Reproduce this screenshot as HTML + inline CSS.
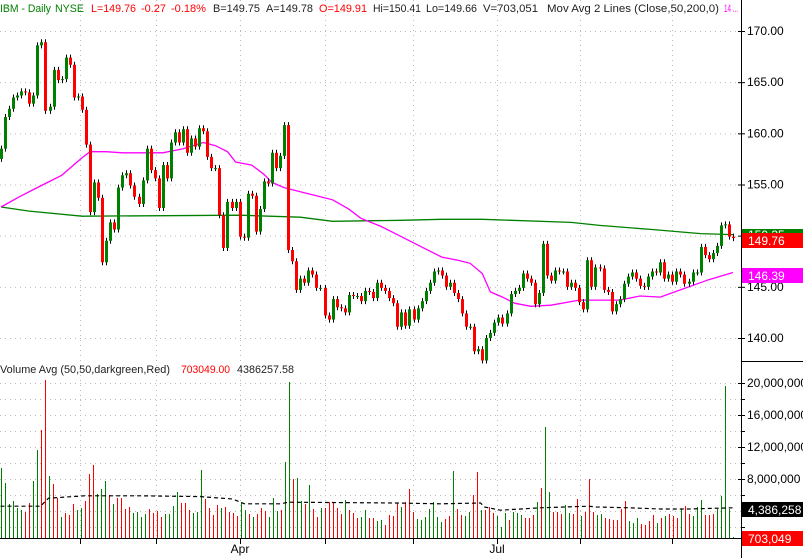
<!DOCTYPE html>
<html><head><meta charset="utf-8">
<style>
html,body{margin:0;padding:0;background:#fff;}
svg{display:block;font-family:"Liberation Sans",Arial,sans-serif;}
</style></head>
<body>
<svg id="chart" width="803" height="558" viewBox="0 0 803 558" xmlns="http://www.w3.org/2000/svg">
  <rect x="0" y="0" width="803" height="558" fill="#fff"/>
  <g id="grid"></g>
  <g id="vol"></g>
  <g id="ma"></g>
  <g id="candles"></g>
  <g id="axes"></g>
  <g font-size="11">
    <text x="0" y="12" fill="#008000" textLength="51" lengthAdjust="spacingAndGlyphs">IBM - Daily</text>
    <text x="55" y="12" fill="#008000" textLength="29" lengthAdjust="spacingAndGlyphs">NYSE</text>
    <text x="91" y="12" fill="#ff0000" textLength="45" lengthAdjust="spacingAndGlyphs">L=149.76</text>
    <text x="141" y="12" fill="#ff0000" textLength="25" lengthAdjust="spacingAndGlyphs">-0.27</text>
    <text x="171" y="12" fill="#ff0000" textLength="35" lengthAdjust="spacingAndGlyphs">-0.18%</text>
    <text x="213" y="12" fill="#222" textLength="47" lengthAdjust="spacingAndGlyphs">B=149.75</text>
    <text x="266" y="12" fill="#222" textLength="47" lengthAdjust="spacingAndGlyphs">A=149.78</text>
    <text x="319" y="12" fill="#ff0000" textLength="48" lengthAdjust="spacingAndGlyphs">O=149.91</text>
    <text x="373" y="12" fill="#222" textLength="48" lengthAdjust="spacingAndGlyphs">Hi=150.41</text>
    <text x="426" y="12" fill="#222" textLength="51" lengthAdjust="spacingAndGlyphs">Lo=149.66</text>
    <text x="483" y="12" fill="#222" textLength="55" lengthAdjust="spacingAndGlyphs">V=703,051</text>
    <text x="547" y="12" fill="#222" textLength="172" lengthAdjust="spacingAndGlyphs">Mov Avg 2 Lines (Close,50,200,0)</text>
    <text x="724" y="12" fill="#ff00ff" textLength="14" lengthAdjust="spacingAndGlyphs">14 ...</text>
  </g>
  <g font-size="11">
    <text x="0" y="373" fill="#222" textLength="170" lengthAdjust="spacingAndGlyphs">Volume Avg (50,50,darkgreen,Red)</text>
    <text x="181" y="373" fill="#ff0000" textLength="49" lengthAdjust="spacingAndGlyphs">703049.00</text>
    <text x="237" y="373" fill="#222" textLength="57" lengthAdjust="spacingAndGlyphs">4386257.58</text>
  </g>
</svg>
<script>
const closes = [158.5,161.6,162.4,163.5,163.7,164.1,164,162.9,163.7,168.6,168.9,162.2,162.6,166.2,165.2,165.3,167.4,166.7,163.5,163.6,162.3,158.9,152.3,155.2,153.7,147.4,149.5,151.3,150.6,154.7,155.9,156.1,154.9,153.8,153.1,155.4,158.5,156.4,155.6,152.7,156.9,155.6,159.1,160.1,159.1,160.4,158.1,159.5,158.7,160.5,160.2,157.7,156.6,156.6,152,148.8,153.3,152.7,153.3,149.9,149.8,154.1,
153.9,150.4,152.6,155.3,155.1,158.1,156.6,157.8,160.8,148.6,147.5,144.7,145.8,145.4,146.6,146.2,144.9,144.9,142.2,141.8,143.8,143,142.9,142.5,144.2,144.1,144.1,143.6,144.6,144.5,143.9,145.4,144.9,144.6,143.9,143.4,141.1,142.5,141.2,142.8,141.8,142.9,143.6,144.6,145.4,146.5,146.6,146.1,145,145.4,144.4,143.8,142.4,141.1,141.1,138.7,138.9,137.8,140,
140.5,141.5,142,141.4,142.4,144.3,144.6,144.9,146.3,145.8,145.4,143.3,144.4,149.2,146.1,145.6,146.6,146.5,146.5,145,145.4,144.9,143.5,142.8,147.6,145,146.9,146.8,144.7,144.5,142.6,143.3,143.8,145.3,146,146.4,145.8,145.1,145,146,146.5,146.4,147.4,145.8,146.2,145.5,146.5,146.2,145.3,145.5,146.4,146.4,148.9,148.1,147.7,148.3,149,151,151.1,149.9,149.76];
const firstOpen = 157.5;
const volumes = [9.4,7.5,4.9,5.2,4.4,4.1,3.9,5,7.75,11.6,14.1,20.9,8.4,7.4,5.6,3.3,3.75,3.5,4.9,4.1,4.4,5.2,8.6,9.75,6.1,6.75,7.75,6,4.9,5.6,5.6,4.25,4.5,3.75,3.9,3.3,3.6,4.25,3.75,4,3.3,3.6,3.6,4.6,6.4,5,5,4.1,3.75,3.9,9.1,5.5,4.4,3.5,4.75,4.4,4.5,3.9,3.75,3.4,5.1,4.1,3.6,3.3,3.6,4.4,4,3.3,5.6,4,4.1,10.1,20.1,8,8.1,5.2,4.9,7.25,4.25,3.3,4.4,4.4,5.1,5.1,4.4,3.6,5.4,4.1,3.75,3.1,3.3,4.1,3.1,3.1,2.75,2.9,2.25,3.5,3.4,5,
4.5,5.1,6.75,3.9,3,2.9,3.25,4.25,5.1,3.25,2.6,3,3.4,9,4.25,3.5,3.4,3.9,6,8.9,4.1,4.1,4.5,3.75,3.4,2,3.75,2.9,3.9,3.75,3.5,3.1,3.1,3.5,5.1,6.9,14.5,6.4,3.9,3.9,3.6,4.75,3.75,3.6,5.5,3.4,3.9,8,3.9,
3.5,3.6,3.1,3,2.9,2.9,4.25,5.25,2.75,2.5,3.1,2.4,2.25,2.75,3.5,2.5,3.1,3.4,3.6,3.4,3.1,4.25,4.6,3.6,3.4,4.5,5.4,3.5,3.5,3.6,4.25,5.9,19.6,4.25,0.7];
const volColors = "ggggggrrggrrgrrgrrrggrrrgggrgrrrrggggrrrrggggrrrgggrrrrgrrrrggrgrrrgggrggrggrgrrgrrrrrgrrrggrrggrrrrgr" +
  "rrgggggggrrgrrggrrgrrrgggrgggrrrgrggrrrggrrgrrrgg" +
  "rrrrrrgggrrrrgrgrrrgrrgggrrrgggggrrr";
const ma50Idx = [0,5,10,15,20,22,26,30,35,40,45,50,53,56,58,62,65,67,70,74,78,82,86,89,94,99,104,109,113,116,119,121,124,127,131,136,143,153,158,163,168,175,181];
const ma50Val = [152.8,153.9,154.9,155.9,157.6,158.2,158.2,158.1,158.1,158.1,158.5,159.1,158.8,158.2,157.2,156.9,156.0,155.2,154.7,154.3,153.9,153.5,152.6,151.7,150.9,149.9,148.9,147.9,147.6,147.3,146.3,144.5,144.0,143.4,143.1,143.2,143.7,143.7,144.1,144.0,144.7,145.7,146.4];
const ma200Idx = [0,7,20,59,74,82,99,109,119,141,148,161,173,181];
const ma200Val = [152.8,152.4,151.9,152.0,151.8,151.4,151.5,151.6,151.6,151.3,151.0,150.6,150.2,150.1];
const volAvgIdx = [0,10,12,21,35,50,58,61,70,72,99,110,120,121,125,135,147,149,157,165,172,183];
const volAvgVal = [4.6,4.6,5.6,5.9,5.9,5.8,5.5,4.9,4.9,5.1,5.0,4.9,5.0,4.5,4.1,4.4,4.6,4.5,4.4,4.25,4.25,4.4];
const priceTicks = [170,165,160,155,150,145,140];
const volTicks = [20,16,12,8];
const dateTickX = [80,156,240,325,413,497,580,672];
const dateLabels = ["","","Apr","","","Jul","",""];

const NS="http://www.w3.org/2000/svg";
const PLOT_R=741;
function yP(p){return 31+(170-p)*10.233;}
function yV(v){return 543-v*8;}
function xC(i){return 1+i*(732/(closes.length-1));}
function xV(i){return 0.5+i*(732/(volumes.length-1));}
function mk(tag,attrs,parent){const e=document.createElementNS(NS,tag);for(const k in attrs)e.setAttribute(k,attrs[k]);parent.appendChild(e);return e;}

const grid=document.getElementById('grid');
priceTicks.forEach(p=>{
  const l=mk('line',{x1:0,x2:PLOT_R,y1:yP(p)+0.5,y2:yP(p)+0.5,stroke:'#bbb','stroke-dasharray':'1,4'},grid);
  
  
});
volTicks.concat([18,14,10,6,4,2]).forEach(v=>{
  const l=mk('line',{x1:0,x2:PLOT_R,y1:yV(v)+0.5,y2:yV(v)+0.5,stroke:'#bbb','stroke-dasharray':'1,4'},grid);
  
  
});
dateTickX.forEach(x=>{
  const l=mk('line',{x1:x+0.5,x2:x+0.5,y1:0,y2:538,stroke:'#bbb','stroke-dasharray':'1,4'},grid);
  
  
});

// volume
const vg=document.getElementById('vol');
volumes.forEach((v,i)=>{
  const x=Math.round(xV(i));
  const c=volColors[i]==='r'?'#ff0000':'#008000';
  const top=Math.round(Math.max(yV(v),380));
  const r=mk('rect',{x:x,y:top,width:1,height:538-top,fill:c,'shape-rendering':'crispEdges'},vg);
  
  
});
let vpts=volAvgIdx.map((i,k)=>xV(i).toFixed(1)+','+yV(volAvgVal[k]).toFixed(1)).join(' ');
const vavg=mk('polyline',{points:vpts,fill:'none',stroke:'#000','stroke-width':1.2,'stroke-dasharray':'4,3'},vg);



// moving averages
const mg=document.getElementById('ma');
const p200=mk('polyline',{points:ma200Idx.map((i,k)=>xC(i).toFixed(1)+','+yP(ma200Val[k]).toFixed(1)).join(' '),fill:'none',stroke:'#008000','stroke-width':1.3},mg);


const p50=mk('polyline',{points:ma50Idx.map((i,k)=>xC(i).toFixed(1)+','+yP(ma50Val[k]).toFixed(1)).join(' '),fill:'none',stroke:'#ff00ff','stroke-width':1.3},mg);



// candles
const cg=document.getElementById('candles');
closes.forEach((c,i)=>{
  const o=i===0?firstOpen:closes[i-1];
  const up=c>=o;
  const x=Math.round(xC(i));
  const top=yP(Math.max(o,c)), bot=yP(Math.min(o,c));
  const w=mk('line',{x1:x+0.5,x2:x+0.5,y1:top-3,y2:bot+3,stroke:'#000','stroke-width':1},cg);
  
  
  const b=mk('rect',{x:x-1,y:top,width:3,height:Math.max(bot-top,1),fill:up?'#008000':'#ff0000'},cg);
  
  
});

// axes
const ag=document.getElementById('axes');
mk('rect',{x:PLOT_R+1,y:0,width:62,height:558,fill:'#fff'},ag);
const ax=mk('line',{x1:PLOT_R+0.5,x2:PLOT_R+0.5,y1:0,y2:558,stroke:'#000','stroke-width':1},ag);


const dv=mk('line',{x1:PLOT_R,x2:803,y1:361.5,y2:361.5,stroke:'#000','stroke-width':1},ag);


const xa=mk('line',{x1:0,x2:PLOT_R,y1:538.5,y2:538.5,stroke:'#000','stroke-width':1},ag);


priceTicks.forEach(p=>{
  mk('line',{x1:PLOT_R-3,x2:PLOT_R+4,y1:yP(p)+0.5,y2:yP(p)+0.5,stroke:'#000'},ag);
  const t=mk('text',{x:747,y:yP(p)+4,'font-size':12,fill:'#000'},ag);
  t.textContent=p.toFixed(2);
  
  
});
[18,14,10,6,2].forEach(v=>{mk('line',{x1:PLOT_R,x2:PLOT_R+4,y1:yV(v)+0.5,y2:yV(v)+0.5,stroke:'#000'},ag);});
volTicks.forEach(v=>{
  mk('line',{x1:PLOT_R-3,x2:PLOT_R+4,y1:yV(v)+0.5,y2:yV(v)+0.5,stroke:'#000'},ag);
  const t=mk('text',{x:747,y:yV(v)+4,'font-size':12,fill:'#000'},ag);
  t.textContent=(v*1000000).toLocaleString('en-US');
  
  
});
dateTickX.forEach((x,k)=>{
  mk('line',{x1:x+0.5,x2:x+0.5,y1:538,y2:544,stroke:'#000'},ag);
  if(dateLabels[k]){
    const t=mk('text',{x:x,y:553,'font-size':12,fill:'#000','text-anchor':'middle'},ag);
    t.textContent=dateLabels[k];
    
    
  }
});
function box(y,h,fill,txt,name,tc){
  mk('rect',{x:PLOT_R+1,y:y,width:62,height:h,fill:fill},ag);
  const t=mk('text',{x:748,y:y+h-3,'font-size':12,fill:tc||'#fff'},ag);
  t.textContent=txt;
  
  
}
box(229,13,'#008000','150.35','ma-200-value-box');
box(233,15,'#ff0000','149.76','last-price-box');
box(268,15,'#ff00ff','146.39','ma-50-value-box');
box(502,15,'#000','4,386,258','volume-avg-box');
box(531,15,'#ff0000','703,049','volume-last-box');
</script>
</body></html>
